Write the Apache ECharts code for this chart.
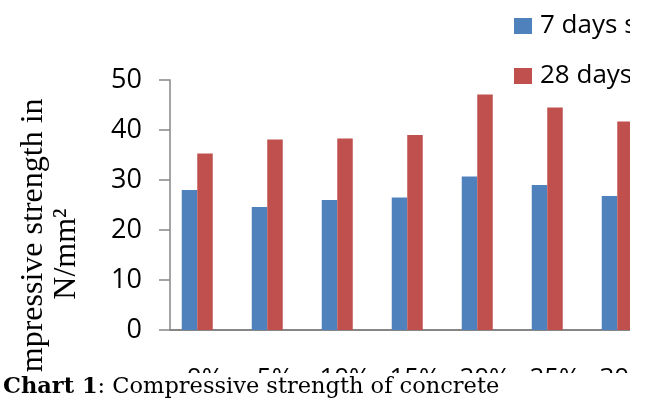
<!DOCTYPE html>
<html>
<head>
<meta charset="utf-8">
<script src="https://cdn.jsdelivr.net/npm/echarts@6/dist/echarts.min.js"></script>
<style>
  html, body { margin: 0; padding: 0; background: #fff; }
  #chart { width: 646px; height: 400px; }
</style>
</head>
<body>
<div id="chart"></div>
<script>
// replacement levels
var categories = ['0%', '5%', '10%', '15%', '20%', '25%', '30%'];
// compressive strength, N/mm2
var days7 = [28.0, 24.6, 26.0, 26.5, 30.7, 29.0, 26.8];
var days28 = [35.3, 38.1, 38.3, 39.0, 47.1, 44.5, 41.7];
// third column of the sheet, left empty
var days90 = [];
var yTicks = [0, 10, 20, 30, 40, 50];

var chart = echarts.init(document.getElementById('chart'));

var option = {
  animation: false,
  backgroundColor: '#fff',
  color: ['#4F81BD', '#C0504D'],
  legend: {
    data: ['7 days strength', '28 days strength'],
    orient: 'vertical',
    left: 509,
    top: 6,
    itemWidth: 18,
    itemHeight: 16,
    itemGap: 20,
    icon: 'rect',
    textStyle: {
      fontFamily: 'Open Sans',
      fontSize: 26,
      lineHeight: 30,
      color: '#000',
      padding: [0, 0, 0, 3]
    }
  },
  grid: {
    left: 170,
    top: 80,
    width: 490,
    height: 250,
    outerBoundsMode: 'none'
  },
  xAxis: {
    type: 'category',
    data: categories,
    axisTick: { show: false },
    axisLine: {
      lineStyle: { color: '#868686', width: 2 }
    },
    axisLabel: {
      color: '#000',
      fontFamily: 'Open Sans',
      fontSize: 26,
      margin: 36
    }
  },
  yAxis: {
    type: 'value',
    min: yTicks[0],
    max: yTicks[yTicks.length - 1],
    interval: 10,
    splitLine: { show: false },
    axisLine: {
      show: true,
      lineStyle: { color: '#868686', width: 1.5 }
    },
    axisTick: {
      show: true,
      length: 11,
      lineStyle: { color: '#868686', width: 1.5 }
    },
    axisLabel: {
      color: '#000',
      fontFamily: 'Open Sans',
      fontSize: 27,
      margin: 28
    }
  },
  series: [{
      name: '7 days strength',
      type: 'bar',
      barWidth: 15.5,
      barGap: '0%',
      data: days7
    },
    {
      name: '28 days strength',
      type: 'bar',
      barWidth: 15.5,
      barGap: '0%',
      data: days28
    },
    {
      name: '90 days strength',
      type: 'bar',
      barWidth: 15.5,
      barGap: '0%',
      data: days90
    }
  ],
  graphic: [{
      type: 'text',
      z: 50,
      x: 50,
      y: 254,
      rotation: Math.PI / 2,
      style: {
        text: 'Compressive strength in\nN/mm²',
        fontFamily: 'Liberation Serif',
        fontSize: 32,
        lineHeight: 33,
        fill: '#000',
        align: 'center',
        verticalAlign: 'middle'
      }
    },
    {
      // the screenshot was cropped on the right
      type: 'rect',
      z: 100,
      shape: { x: 630, y: 0, width: 16, height: 400 },
      style: { fill: '#fff' }
    },
    {
      // caption strip
      type: 'rect',
      z: 100,
      shape: { x: 0, y: 373, width: 646, height: 27 },
      style: { fill: '#fff' }
    },
    {
      type: 'text',
      z: 101,
      x: 3,
      y: 399,
      style: {
        text: '{b|Chart 1}: Compressive strength of concrete',
        fontFamily: 'DejaVu Serif',
        fontSize: 22.5,
        fill: '#000',
        verticalAlign: 'bottom',
        rich: {
          b: {
            fontFamily: 'DejaVu Serif',
            fontSize: 22.5,
            fontWeight: 'bold'
          }
        }
      }
    }
  ]
};

chart.setOption(option);
</script>
</body>
</html>
